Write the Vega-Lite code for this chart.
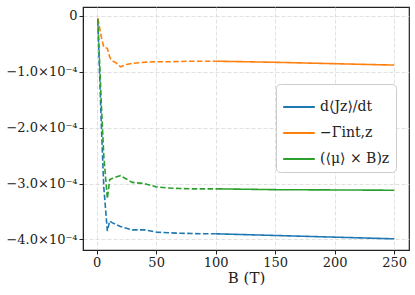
{
  "$schema": "https://vega.github.io/schema/vega-lite/v6.json",
  "width": 326,
  "height": 243,
  "autosize": {"type": "none"},
  "padding": {"left": 83, "top": 7, "right": 6, "bottom": 45},
  "background": "white",
  "config": {
    "font": "DejaVu Serif",
    "view": {"stroke": "#222222", "strokeWidth": 1.2},
    "axis": {
      "domainColor": "#222222",
      "tickColor": "#222222",
      "labelColor": "#222222",
      "titleColor": "#222222",
      "labelFont": "DejaVu Serif",
      "titleFont": "DejaVu Serif",
      "labelFontSize": 13,
      "titleFontSize": 15,
      "titleFontWeight": "normal",
      "gridColor": "#d9d9d9",
      "gridDash": [4, 2],
      "gridWidth": 0.8,
      "tickSize": 4,
      "labelPadding": 2
    }
  },
  "data": {
    "values": [
      {"B": 1, "value": -0.09e-4, "series": "d⟨Jz⟩/dt", "seg": "dashed"},
      {"B": 4, "value": -1.98e-4, "series": "d⟨Jz⟩/dt", "seg": "dashed"},
      {"B": 6, "value": -3.06e-4, "series": "d⟨Jz⟩/dt", "seg": "dashed"},
      {"B": 9, "value": -3.85e-4, "series": "d⟨Jz⟩/dt", "seg": "dashed"},
      {"B": 11, "value": -3.67e-4, "series": "d⟨Jz⟩/dt", "seg": "dashed"},
      {"B": 13, "value": -3.70e-4, "series": "d⟨Jz⟩/dt", "seg": "dashed"},
      {"B": 17, "value": -3.74e-4, "series": "d⟨Jz⟩/dt", "seg": "dashed"},
      {"B": 20, "value": -3.77e-4, "series": "d⟨Jz⟩/dt", "seg": "dashed"},
      {"B": 25, "value": -3.80e-4, "series": "d⟨Jz⟩/dt", "seg": "dashed"},
      {"B": 30, "value": -3.83e-4, "series": "d⟨Jz⟩/dt", "seg": "dashed"},
      {"B": 40, "value": -3.83e-4, "series": "d⟨Jz⟩/dt", "seg": "dashed"},
      {"B": 50, "value": -3.87e-4, "series": "d⟨Jz⟩/dt", "seg": "dashed"},
      {"B": 60, "value": -3.88e-4, "series": "d⟨Jz⟩/dt", "seg": "dashed"},
      {"B": 70, "value": -3.89e-4, "series": "d⟨Jz⟩/dt", "seg": "dashed"},
      {"B": 80, "value": -3.895e-4, "series": "d⟨Jz⟩/dt", "seg": "dashed"},
      {"B": 90, "value": -3.90e-4, "series": "d⟨Jz⟩/dt", "seg": "dashed"},
      {"B": 100, "value": -3.90e-4, "series": "d⟨Jz⟩/dt", "seg": "dashed"},
      {"B": 100, "value": -3.90e-4, "series": "d⟨Jz⟩/dt", "seg": "solid"},
      {"B": 150, "value": -3.93e-4, "series": "d⟨Jz⟩/dt", "seg": "solid"},
      {"B": 200, "value": -3.96e-4, "series": "d⟨Jz⟩/dt", "seg": "solid"},
      {"B": 250, "value": -3.99e-4, "series": "d⟨Jz⟩/dt", "seg": "solid"},

      {"B": 1, "value": -0.04e-4, "series": "−Γ̄int,z", "seg": "dashed"},
      {"B": 4, "value": -0.38e-4, "series": "−Γ̄int,z", "seg": "dashed"},
      {"B": 6, "value": -0.56e-4, "series": "−Γ̄int,z", "seg": "dashed"},
      {"B": 9, "value": -0.58e-4, "series": "−Γ̄int,z", "seg": "dashed"},
      {"B": 11, "value": -0.74e-4, "series": "−Γ̄int,z", "seg": "dashed"},
      {"B": 13, "value": -0.80e-4, "series": "−Γ̄int,z", "seg": "dashed"},
      {"B": 17, "value": -0.85e-4, "series": "−Γ̄int,z", "seg": "dashed"},
      {"B": 20, "value": -0.91e-4, "series": "−Γ̄int,z", "seg": "dashed"},
      {"B": 25, "value": -0.87e-4, "series": "−Γ̄int,z", "seg": "dashed"},
      {"B": 30, "value": -0.85e-4, "series": "−Γ̄int,z", "seg": "dashed"},
      {"B": 40, "value": -0.83e-4, "series": "−Γ̄int,z", "seg": "dashed"},
      {"B": 50, "value": -0.82e-4, "series": "−Γ̄int,z", "seg": "dashed"},
      {"B": 60, "value": -0.82e-4, "series": "−Γ̄int,z", "seg": "dashed"},
      {"B": 70, "value": -0.815e-4, "series": "−Γ̄int,z", "seg": "dashed"},
      {"B": 80, "value": -0.81e-4, "series": "−Γ̄int,z", "seg": "dashed"},
      {"B": 90, "value": -0.81e-4, "series": "−Γ̄int,z", "seg": "dashed"},
      {"B": 100, "value": -0.81e-4, "series": "−Γ̄int,z", "seg": "dashed"},
      {"B": 100, "value": -0.81e-4, "series": "−Γ̄int,z", "seg": "solid"},
      {"B": 150, "value": -0.83e-4, "series": "−Γ̄int,z", "seg": "solid"},
      {"B": 200, "value": -0.855e-4, "series": "−Γ̄int,z", "seg": "solid"},
      {"B": 250, "value": -0.88e-4, "series": "−Γ̄int,z", "seg": "solid"},

      {"B": 1, "value": -0.05e-4, "series": "(⟨μ⟩ × B)z", "seg": "dashed"},
      {"B": 4, "value": -1.60e-4, "series": "(⟨μ⟩ × B)z", "seg": "dashed"},
      {"B": 6, "value": -2.50e-4, "series": "(⟨μ⟩ × B)z", "seg": "dashed"},
      {"B": 9, "value": -3.27e-4, "series": "(⟨μ⟩ × B)z", "seg": "dashed"},
      {"B": 11, "value": -2.93e-4, "series": "(⟨μ⟩ × B)z", "seg": "dashed"},
      {"B": 13, "value": -2.91e-4, "series": "(⟨μ⟩ × B)z", "seg": "dashed"},
      {"B": 17, "value": -2.88e-4, "series": "(⟨μ⟩ × B)z", "seg": "dashed"},
      {"B": 20, "value": -2.86e-4, "series": "(⟨μ⟩ × B)z", "seg": "dashed"},
      {"B": 25, "value": -2.92e-4, "series": "(⟨μ⟩ × B)z", "seg": "dashed"},
      {"B": 30, "value": -2.98e-4, "series": "(⟨μ⟩ × B)z", "seg": "dashed"},
      {"B": 40, "value": -3.00e-4, "series": "(⟨μ⟩ × B)z", "seg": "dashed"},
      {"B": 50, "value": -3.06e-4, "series": "(⟨μ⟩ × B)z", "seg": "dashed"},
      {"B": 60, "value": -3.08e-4, "series": "(⟨μ⟩ × B)z", "seg": "dashed"},
      {"B": 70, "value": -3.09e-4, "series": "(⟨μ⟩ × B)z", "seg": "dashed"},
      {"B": 80, "value": -3.095e-4, "series": "(⟨μ⟩ × B)z", "seg": "dashed"},
      {"B": 90, "value": -3.095e-4, "series": "(⟨μ⟩ × B)z", "seg": "dashed"},
      {"B": 100, "value": -3.095e-4, "series": "(⟨μ⟩ × B)z", "seg": "dashed"},
      {"B": 100, "value": -3.095e-4, "series": "(⟨μ⟩ × B)z", "seg": "solid"},
      {"B": 150, "value": -3.11e-4, "series": "(⟨μ⟩ × B)z", "seg": "solid"},
      {"B": 200, "value": -3.115e-4, "series": "(⟨μ⟩ × B)z", "seg": "solid"},
      {"B": 250, "value": -3.12e-4, "series": "(⟨μ⟩ × B)z", "seg": "solid"}
    ]
  },
  "mark": {"type": "line", "strokeWidth": 1.6, "clip": true},
  "encoding": {
    "x": {
      "field": "B",
      "type": "quantitative",
      "scale": {"domain": [-11.45, 262.45], "nice": false, "zero": false},
      "axis": {"values": [0, 50, 100, 150, 200, 250], "title": "B (T)", "titlePadding": 1}
    },
    "y": {
      "field": "value",
      "type": "quantitative",
      "scale": {"domain": [-4.19e-4, 0.16e-4], "nice": false, "zero": false},
      "axis": {
        "values": [0, -1e-4, -2e-4, -3e-4, -4e-4],
        "title": null,
        "labelExpr": "datum.value == 0 ? '0' : '−' + format(abs(datum.value) * 10000, '.1f') + '×10⁻⁴'"
      }
    },
    "color": {
      "field": "series",
      "type": "nominal",
      "scale": {
        "domain": ["d⟨Jz⟩/dt", "−Γ̄int,z", "(⟨μ⟩ × B)z"],
        "range": ["#1f77b4", "#ff7f0e", "#2ca02c"]
      },
      "legend": {
        "title": null,
        "orient": "none",
        "legendX": 193,
        "legendY": 77,
        "symbolType": "stroke",
        "symbolSize": 1000,
        "symbolStrokeWidth": 2,
        "labelFont": "DejaVu Serif",
        "labelFontSize": 14,
        "labelColor": "#222222",
        "rowPadding": 2,
        "padding": 6,
        "strokeColor": "#cccccc",
        "fillColor": "white",
        "cornerRadius": 4
      }
    },
    "strokeDash": {
      "field": "seg",
      "type": "nominal",
      "scale": {"domain": ["dashed", "solid"], "range": [[5.5, 2.4], [1, 0]]},
      "legend": null
    },
    "detail": {"field": "seg"}
  }
}
